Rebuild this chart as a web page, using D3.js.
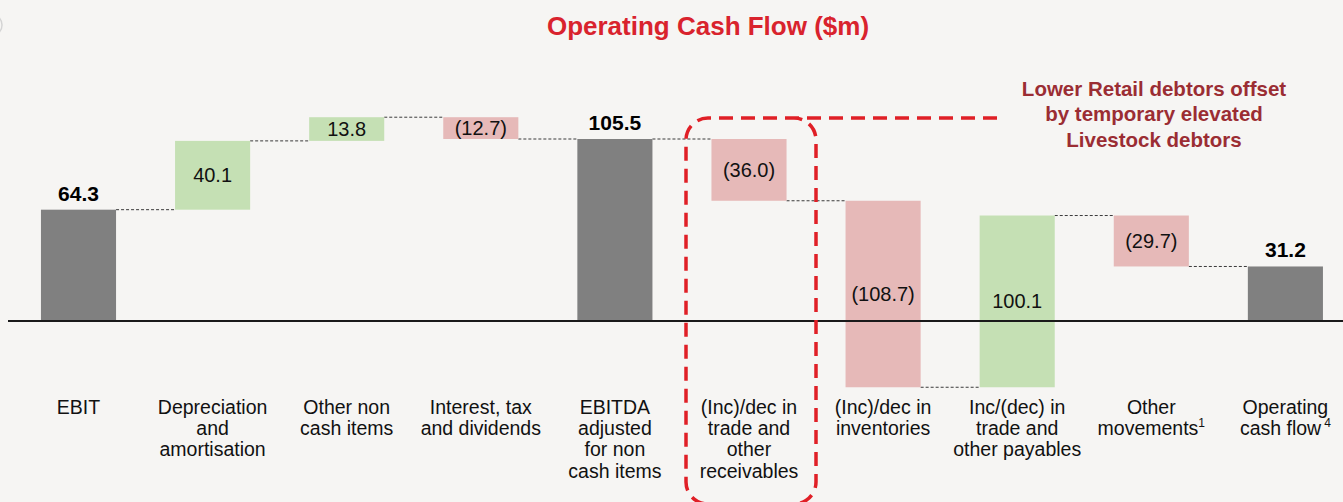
<!DOCTYPE html>
<html>
<head>
<meta charset="utf-8">
<script src="https://cdn.jsdelivr.net/npm/d3@7"></script>
<style>
  html, body { margin: 0; padding: 0; background: #f6f5f3; }
  svg { display: block; }
  text { font-family: Arial, "Liberation Sans", Helvetica, sans-serif; }
</style>
</head>
<body>
<svg id="chart" width="1343" height="502"></svg>
<script>
// ---- Data ----
const categories = [
  "EBIT",
  "Depreciation\nand\namortisation",
  "Other non\ncash items",
  "Interest, tax\nand dividends",
  "EBITDA\nadjusted\nfor non\ncash items",
  "(Inc)/dec in\ntrade and\nother\nreceivables",
  "(Inc)/dec in\ninventories",
  "Inc/(dec) in\ntrade and\nother payables",
  "Other\nmovements",
  "Operating\ncash flow"
];
const superscripts = ["", "", "", "", "", "", "", "", "1", "4"];
const values = [64.3, 40.1, 13.8, -12.7, 105.5, -36.0, -108.7, 100.1, -29.7, 31.2];
const barTypes = ["total", "delta", "delta", "delta", "total", "delta", "delta", "delta", "delta", "total"];
const valueLabels = ["64.3", "40.1", "13.8", "(12.7)", "105.5", "(36.0)", "(108.7)", "100.1", "(29.7)", "31.2"];
const titleText = "Operating Cash Flow ($m)";
const noteLines = ["Lower Retail debtors offset", "by temporary elevated", "Livestock debtors"];

// ---- Build waterfall rows ----
let running = 0;
const rows = categories.map((c, i) => {
  let start, end;
  if (barTypes[i] === "total") { start = 0; end = values[i]; running = values[i]; }
  else { start = running; end = running + values[i]; running = end; }
  return { cat: c, i, start, end, type: barTypes[i], value: values[i], label: valueLabels[i], sup: superscripts[i] };
});

const svg = d3.select("#chart");
svg.append("rect").attr("width", 1343).attr("height", 502).attr("fill", "#f6f5f3");

const x = d3.scaleBand().domain(d3.range(categories.length)).range([11.45, 1352.45]).paddingInner(0.44).paddingOuter(0.22);
const y = d3.scaleLinear().domain([0, 105.5]).range([320, 139]);

const colors = { total: "#808080", pos: "#c5e0b4", neg: "#e6b9b8" };
const fillOf = d => d.type === "total" ? colors.total : (d.value >= 0 ? colors.pos : colors.neg);

// slide artifact circle at left edge
svg.append("circle").attr("cx", -9).attr("cy", 25).attr("r", 11)
  .attr("fill", "none").attr("stroke", "#d4d4d4").attr("stroke-width", 1.5);

// Title
svg.append("text").attr("x", 708).attr("y", 35).attr("text-anchor", "middle")
  .attr("font-size", 26).attr("font-weight", "bold").attr("fill", "#d9232d").text(titleText);

// Connectors
const conn = svg.append("g");
rows.slice(0, -1).forEach((d, i) => {
  const next = rows[i + 1];
  conn.append("line")
    .attr("x1", x(i) + x.bandwidth()).attr("x2", x(i + 1))
    .attr("y1", y(d.end)).attr("y2", y(d.end))
    .attr("stroke", "#3a3a3a").attr("stroke-width", 1).attr("stroke-dasharray", "3,2");
});

// Bars
svg.append("g").selectAll("rect").data(rows).join("rect")
  .attr("x", d => x(d.i))
  .attr("width", x.bandwidth())
  .attr("y", d => y(Math.max(d.start, d.end)))
  .attr("height", d => Math.abs(y(d.start) - y(d.end)))
  .attr("fill", fillOf);

// Axis line (zero)
const axis = d3.axisBottom(x).tickSize(0).tickFormat("");
const ax = svg.append("g").attr("transform", `translate(0,${y(0) + 1})`).call(axis);
ax.select(".domain").attr("d", "M8,0H1343").attr("stroke", "#1a1a1a").attr("stroke-width", 2);

// Value labels
rows.forEach(d => {
  const cx = x(d.i) + x.bandwidth() / 2;
  if (d.type === "total") {
    svg.append("text").attr("x", cx).attr("y", y(d.end) - 9)
      .attr("text-anchor", "middle").attr("font-size", 21).attr("font-weight", "bold")
      .attr("fill", "#000").text(d.label);
  } else {
    const mid = (y(d.start) + y(d.end)) / 2;
    svg.append("text").attr("x", cx).attr("y", mid + 7)
      .attr("text-anchor", "middle").attr("font-size", 20)
      .attr("fill", "#111").text(d.label);
  }
});

// Category labels
rows.forEach(d => {
  const cx = x(d.i) + x.bandwidth() / 2;
  const lines = d.cat.split("\n");
  const t = svg.append("text").attr("x", cx).attr("y", 414)
    .attr("text-anchor", "middle").attr("font-size", 19.5).attr("fill", "#111");
  lines.forEach((ln, k) => {
    const ts = t.append("tspan").attr("x", cx).attr("dy", k === 0 ? 0 : 21.2).text(ln);
    if (k === lines.length - 1 && d.sup) {
      t.append("tspan").attr("dx", d.sup === "4" ? 3 : 0).attr("dy", -8).attr("font-size", 12).text(d.sup);
    }
  });
});

// Highlight box (dashed, rounded) with leader to annotation
const r = 22, bx0 = 686, bx1 = 816, by0 = 118, by1 = 504;
const p = d3.path();
p.moveTo(997, by0);
p.lineTo(bx0 + r, by0);
p.arcTo(bx0, by0, bx0, by0 + r, r);
p.lineTo(bx0, by1 - r);
p.arcTo(bx0, by1, bx0 + r, by1, r);
p.lineTo(bx1 - r, by1);
p.arcTo(bx1, by1, bx1, by1 - r, r);
p.lineTo(bx1, by0 + r);
p.arcTo(bx1, by0, bx1 - r, by0, r);
svg.append("path").attr("d", p.toString()).attr("fill", "none")
  .attr("stroke", "#e01f26").attr("stroke-width", 3.5).attr("stroke-dasharray", "14,8");

// Annotation
const note = svg.append("text").attr("text-anchor", "middle").attr("font-size", 20.5)
  .attr("font-weight", "bold").attr("fill", "#9b2d33");
noteLines.forEach((ln, k) => {
  note.append("tspan").attr("x", 1154).attr("y", 95.5 + k * 25.5).text(ln);
});
</script>
</body>
</html>
